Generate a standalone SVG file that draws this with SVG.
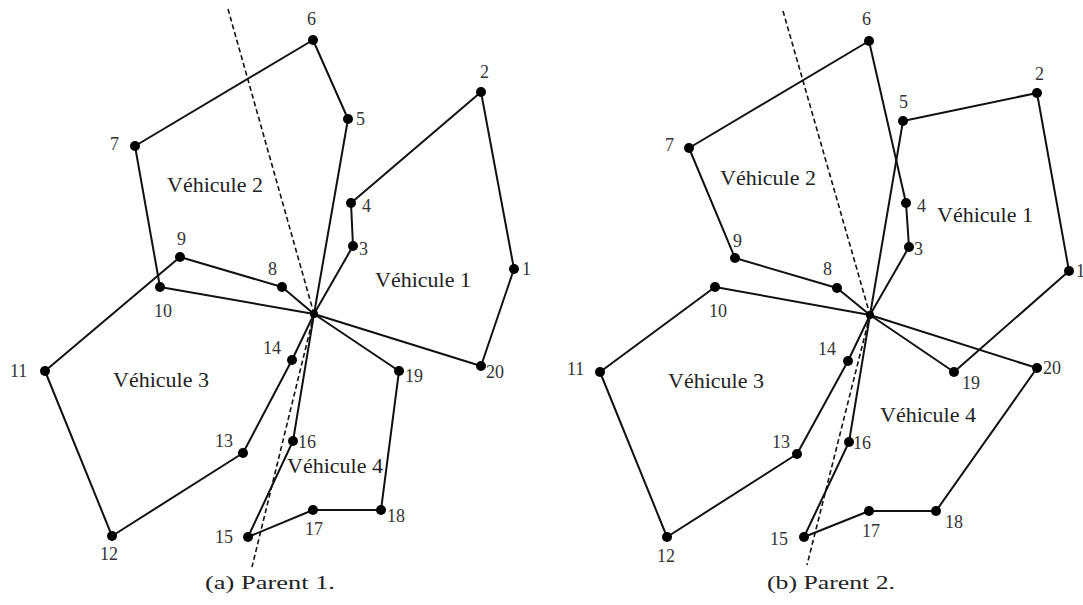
<svg xmlns="http://www.w3.org/2000/svg" width="1083" height="605" viewBox="0 0 1083 605">
<style>
.r{fill:none;stroke:#111;stroke-width:2;stroke-linejoin:round}
.d{fill:none;stroke:#111;stroke-width:1.6;stroke-dasharray:5,3}
.n circle{fill:#000}
.n text{font-family:"Liberation Serif","Times New Roman",serif;font-size:18px;fill:#333}
.v{font-family:"Liberation Serif","Times New Roman",serif;font-size:22px;fill:#222}
.cap{font-family:"Liberation Serif","Times New Roman",serif;font-size:19px;fill:#222}
</style>
<rect width="1083" height="605" fill="#fff"/>
<g id="connectors">
<!-- Parent 1 -->
<polyline class="d" points="228,9 314,314"/>
<polyline class="d" points="314,314 252,567"/>
<polyline class="r" points="314,314 353,246 351,203 481,92 514,269 481,366 314,314"/>
<polyline class="r" points="314,314 348,119 313,40 135,146 160,287 314,314"/>
<polyline class="r" points="314,314 282,287 180,257 45,371 112,536 243,453 292,360 314,314"/>
<polyline class="r" points="314,314 293,441 248,537 313,510 381,510 399,371 314,314"/>
<!-- Parent 2 -->
<polyline class="d" points="783,11 870,315"/>
<polyline class="d" points="870,315 807,565"/>
<polyline class="r" points="870,315 903,121 1037,93 1069,271 954,372 870,315"/>
<polyline class="r" points="870,315 909,247 906,203 869,41 689,148 735,258 837,288 870,315"/>
<polyline class="r" points="870,315 715,287 600,372 667,537 797,454 848,361 870,315"/>
<polyline class="r" points="870,315 849,442 804,537 869,511 936,511 1037,368 870,315"/>
</g>
<g id="parent1">
<g id="a-depot" class="n"><circle cx="314" cy="314" r="4"/></g>
<g id="a-n1" class="n"><circle cx="514" cy="269" r="5"/><text x="522" y="275">1</text></g>
<g id="a-n2" class="n"><circle cx="481" cy="92" r="5"/><text x="480" y="78">2</text></g>
<g id="a-n3" class="n"><circle cx="353" cy="246" r="5"/><text x="359" y="255">3</text></g>
<g id="a-n4" class="n"><circle cx="351" cy="203" r="5"/><text x="362" y="212">4</text></g>
<g id="a-n5" class="n"><circle cx="348" cy="119" r="5"/><text x="356" y="125">5</text></g>
<g id="a-n6" class="n"><circle cx="313" cy="40" r="5"/><text x="307" y="25">6</text></g>
<g id="a-n7" class="n"><circle cx="135" cy="146" r="5"/><text x="110" y="150">7</text></g>
<g id="a-n8" class="n"><circle cx="282" cy="287" r="5"/><text x="268" y="275">8</text></g>
<g id="a-n9" class="n"><circle cx="180" cy="257" r="5"/><text x="177" y="245">9</text></g>
<g id="a-n10" class="n"><circle cx="160" cy="287" r="5"/><text x="154" y="317">10</text></g>
<g id="a-n11" class="n"><circle cx="45" cy="371" r="5"/><text x="10" y="377">11</text></g>
<g id="a-n12" class="n"><circle cx="112" cy="536" r="5"/><text x="100" y="560">12</text></g>
<g id="a-n13" class="n"><circle cx="243" cy="453" r="5"/><text x="215" y="447">13</text></g>
<g id="a-n14" class="n"><circle cx="292" cy="360" r="5"/><text x="263" y="354">14</text></g>
<g id="a-n15" class="n"><circle cx="248" cy="537" r="5"/><text x="215" y="543">15</text></g>
<g id="a-n16" class="n"><circle cx="293" cy="441" r="5"/><text x="298" y="448">16</text></g>
<g id="a-n17" class="n"><circle cx="313" cy="510" r="5"/><text x="305" y="535">17</text></g>
<g id="a-n18" class="n"><circle cx="381" cy="510" r="5"/><text x="387" y="522">18</text></g>
<g id="a-n19" class="n"><circle cx="399" cy="371" r="5"/><text x="405" y="382">19</text></g>
<g id="a-n20" class="n"><circle cx="481" cy="366" r="5"/><text x="486" y="378">20</text></g>
<text class="v" x="167" y="192">Véhicule 2</text>
<text class="v" x="375" y="287">Véhicule 1</text>
<text class="v" x="113" y="387">Véhicule 3</text>
<text class="v" x="287" y="473">Véhicule 4</text>
<text class="cap" x="270" y="589" text-anchor="middle" textLength="130" lengthAdjust="spacingAndGlyphs">(a) Parent 1.</text>
</g>
<g id="parent2">
<g id="b-depot" class="n"><circle cx="870" cy="315" r="4"/></g>
<g id="b-n1" class="n"><circle cx="1069" cy="271" r="5"/><text x="1076" y="277">1</text></g>
<g id="b-n2" class="n"><circle cx="1037" cy="93" r="5"/><text x="1035" y="80">2</text></g>
<g id="b-n3" class="n"><circle cx="909" cy="247" r="5"/><text x="914" y="255">3</text></g>
<g id="b-n4" class="n"><circle cx="906" cy="203" r="5"/><text x="917" y="212">4</text></g>
<g id="b-n5" class="n"><circle cx="903" cy="121" r="5"/><text x="899" y="108">5</text></g>
<g id="b-n6" class="n"><circle cx="869" cy="41" r="5"/><text x="862" y="25">6</text></g>
<g id="b-n7" class="n"><circle cx="689" cy="148" r="5"/><text x="665" y="151">7</text></g>
<g id="b-n8" class="n"><circle cx="837" cy="288" r="5"/><text x="823" y="275">8</text></g>
<g id="b-n9" class="n"><circle cx="735" cy="258" r="5"/><text x="733" y="247">9</text></g>
<g id="b-n10" class="n"><circle cx="715" cy="287" r="5"/><text x="709" y="317">10</text></g>
<g id="b-n11" class="n"><circle cx="600" cy="372" r="5"/><text x="567" y="375">11</text></g>
<g id="b-n12" class="n"><circle cx="667" cy="537" r="5"/><text x="657" y="562">12</text></g>
<g id="b-n13" class="n"><circle cx="797" cy="454" r="5"/><text x="772" y="448">13</text></g>
<g id="b-n14" class="n"><circle cx="848" cy="361" r="5"/><text x="818" y="355">14</text></g>
<g id="b-n15" class="n"><circle cx="804" cy="537" r="5"/><text x="770" y="545">15</text></g>
<g id="b-n16" class="n"><circle cx="849" cy="442" r="5"/><text x="853" y="449">16</text></g>
<g id="b-n17" class="n"><circle cx="869" cy="511" r="5"/><text x="862" y="537">17</text></g>
<g id="b-n18" class="n"><circle cx="936" cy="511" r="5"/><text x="945" y="528">18</text></g>
<g id="b-n19" class="n"><circle cx="954" cy="372" r="5"/><text x="962" y="389">19</text></g>
<g id="b-n20" class="n"><circle cx="1037" cy="368" r="5"/><text x="1043" y="374">20</text></g>
<text class="v" x="720" y="185">Véhicule 2</text>
<text class="v" x="937" y="222">Véhicule 1</text>
<text class="v" x="668" y="388">Véhicule 3</text>
<text class="v" x="880" y="422">Véhicule 4</text>
<text class="cap" x="831" y="589" text-anchor="middle" textLength="128" lengthAdjust="spacingAndGlyphs">(b) Parent 2.</text>
</g>
</svg>
